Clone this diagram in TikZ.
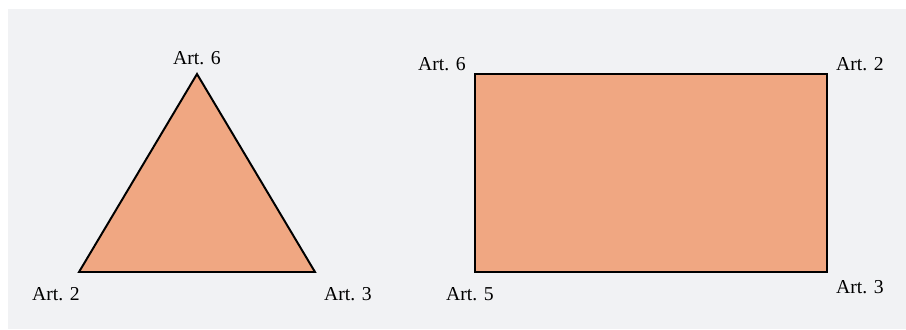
\documentclass[tikz,border=0pt]{standalone}
\usepackage{fontspec}
\setmainfont{Liberation Serif}
\definecolor{panelgray}{HTML}{F1F2F4}
\definecolor{artfill}{HTML}{F0A782}
\tikzset{
    artlabel/.style={font=\fontsize{14}{16}\selectfont, inner sep=0pt},
    artshape/.style={draw=black, fill=artfill, line width=1.4pt, line join=miter}
}

\begin{document}
\begin{tikzpicture}[x=0.025cm, y=-0.025cm]
    % Háttér
    \useasboundingbox (0,0) rectangle (906,329);
    \fill[white] (0,0) rectangle (906,329);
    \fill[panelgray] (8,9) rectangle (906,329);

    % Háromszög csúcsai
    \coordinate (triTop)   at (197,74);
    \coordinate (triLeft)  at (79,272);
    \coordinate (triRight) at (315,272);
    \draw[artshape] (triTop) -- (triRight) -- (triLeft) -- cycle;

    % Téglalap sarkai
    \coordinate (recTL) at (475,74);
    \coordinate (recBR) at (827,272);
    \draw[artshape] (recTL) rectangle (recBR);

    % Feliratok (háromszög)
    \node[artlabel] (triTopLbl)   at (197,58)  {Art. 6};
    \node[artlabel] (triLeftLbl)  at (56,294)  {Art. 2};
    \node[artlabel] (triRightLbl) at (348,294) {Art. 3};

    % Feliratok (téglalap)
    \node[artlabel] (recTLLbl) at (442,64)  {Art. 6};
    \node[artlabel] (recTRLbl) at (860,64)  {Art. 2};
    \node[artlabel] (recBLLbl) at (470,294) {Art. 5};
    \node[artlabel] (recBRLbl) at (860,287) {Art. 3};
\end{tikzpicture}
\end{document}
